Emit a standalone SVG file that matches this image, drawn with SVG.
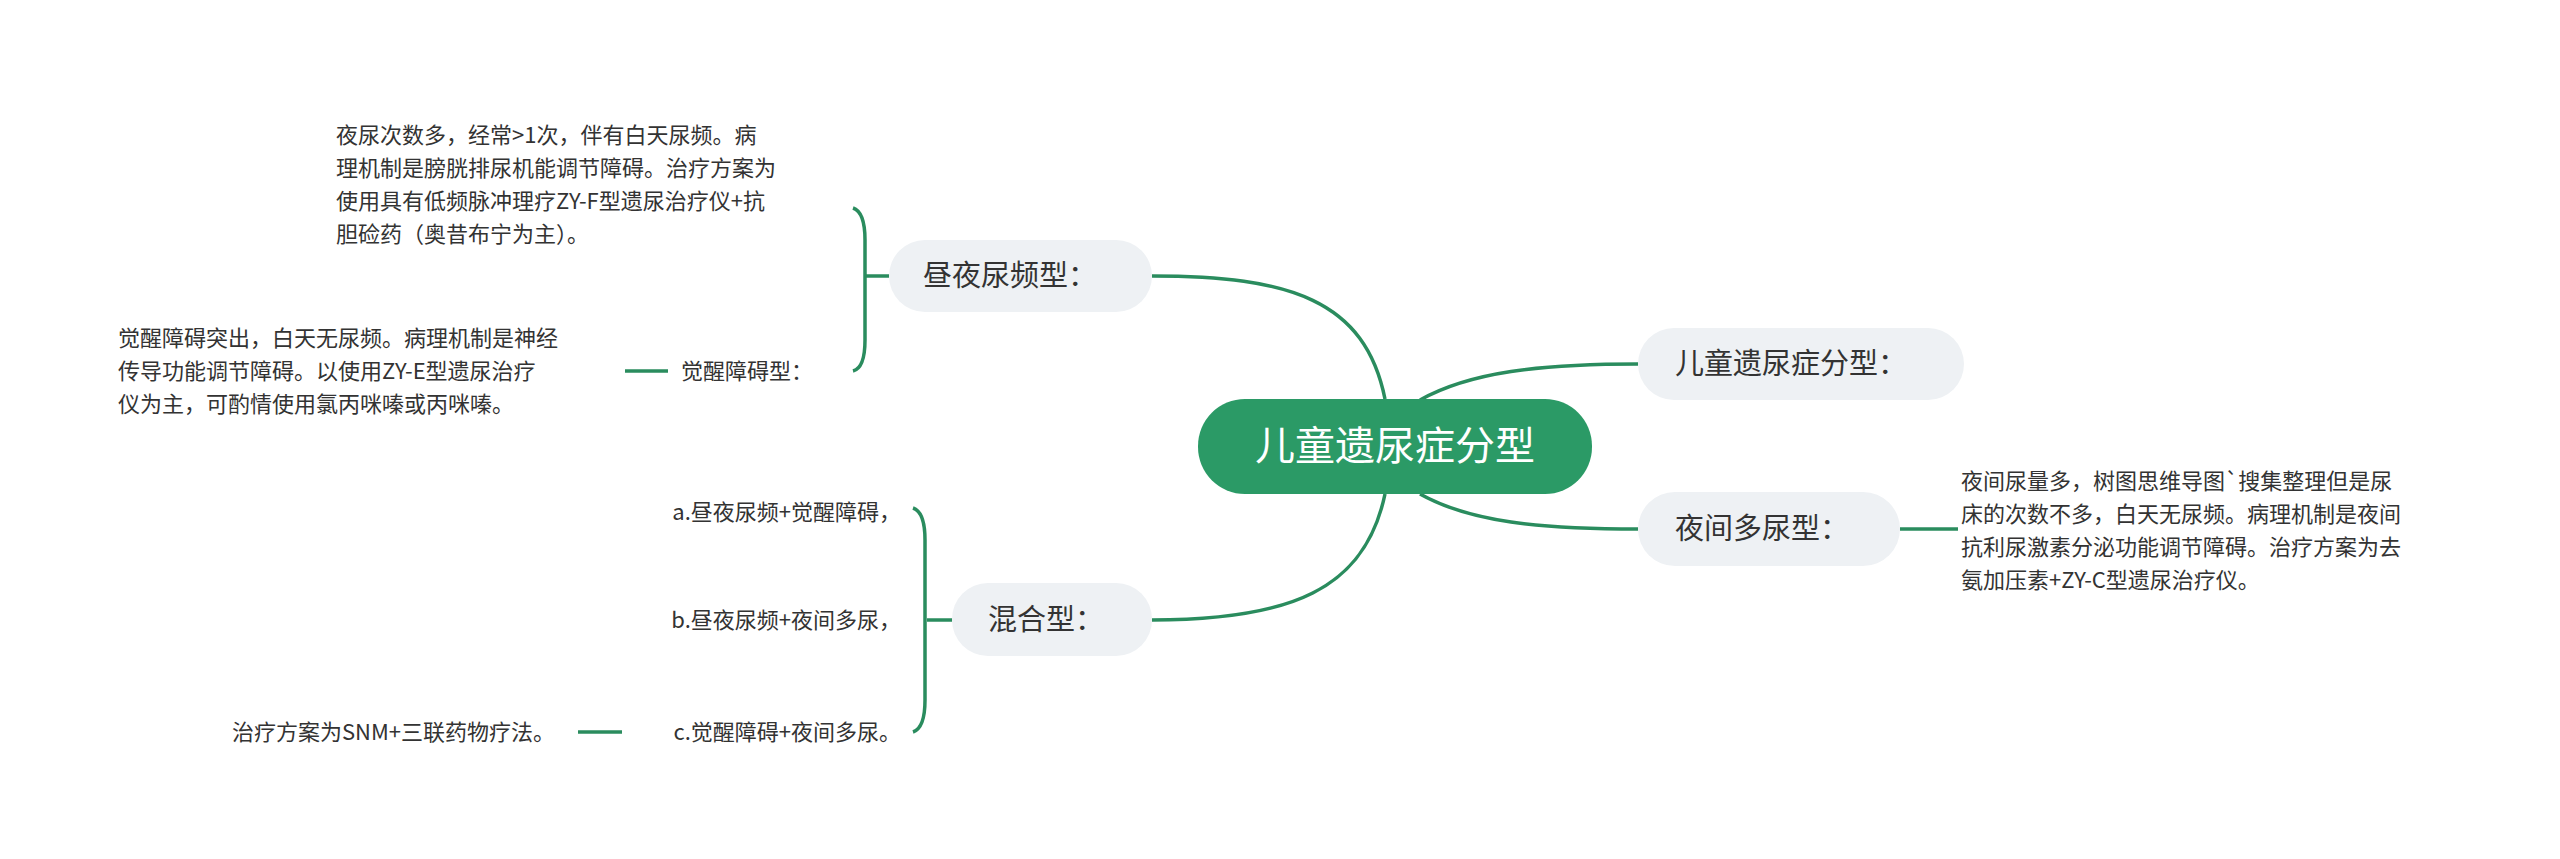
<svg xmlns="http://www.w3.org/2000/svg" width="2560" height="859" viewBox="0 0 2560 859">
<style>
.c{fill:none;stroke:#2a8c5e;stroke-width:3.5}
.n{fill:#eef1f4}
text{font-family:"Noto Sans CJK SC","Noto Sans",sans-serif;fill:#333}
.t1{font-size:29px}
.t2{font-size:22px}
</style>
<rect width="2560" height="859" fill="#fff"/>
<g id="connectors">
<path class="c" d="M1385,399 C1365,300 1290,276 1152,276"/>
<path class="c" d="M1385,494 C1365,590 1290,620 1152,620"/>
<path class="c" d="M1420,400 C1470,372 1540,364 1638,364"/>
<path class="c" d="M1420,494 C1470,522 1540,529 1638,529"/>
<path class="c" d="M1900,529 H1958"/>
<path class="c" d="M889,276 H865"/>
<path class="c" d="M853,208 Q865,212 865,240 L865,340 Q865,368 853,371"/>
<path class="c" d="M625,371 H668"/>
<path class="c" d="M952,620 H927"/>
<path class="c" d="M913,508 Q925,512 925,540 L925,700 Q925,728 913,732"/>
<path class="c" d="M578,732 H622"/>
</g>
<g id="root">
<rect x="1198" y="399" width="394" height="95" rx="47" fill="#2b9a66"/>
<text x="1395" y="460" font-size="40" text-anchor="middle" style="fill:#fff">儿童遗尿症分型</text>
</g>
<g id="n-type">
<rect class="n" x="1638" y="328" width="326" height="72" rx="36"/>
<text class="t1" x="1675" y="374">儿童遗尿症分型：</text>
</g>
<g id="n-night">
<rect class="n" x="1638" y="492" width="262" height="74" rx="37"/>
<text class="t1" x="1675" y="539">夜间多尿型：</text>
</g>
<g id="n-night-text">
<text class="t2" x="1961" y="489">夜间尿量多，树图思维导图`搜集整理但是尿</text>
<text class="t2" x="1961" y="522">床的次数不多，白天无尿频。病理机制是夜间</text>
<text class="t2" x="1961" y="555">抗利尿激素分泌功能调节障碍。治疗方案为去</text>
<text class="t2" x="1961" y="588">氨加压素+ZY-C型遗尿治疗仪。</text>
</g>
<g id="n-day">
<rect class="n" x="889" y="240" width="263" height="72" rx="36"/>
<text class="t1" x="923" y="286">昼夜尿频型：</text>
</g>
<g id="n-day-text">
<text class="t2" x="336" y="143">夜尿次数多，经常&gt;1次，伴有白天尿频。病</text>
<text class="t2" x="336" y="176">理机制是膀胱排尿机能调节障碍。治疗方案为</text>
<text class="t2" x="336" y="209">使用具有低频脉冲理疗ZY-F型遗尿治疗仪+抗</text>
<text class="t2" x="336" y="242">胆硷药（奥昔布宁为主）。</text>
</g>
<g id="n-wake">
<text class="t2" x="681" y="379">觉醒障碍型：</text>
</g>
<g id="n-wake-text">
<text class="t2" x="118" y="346">觉醒障碍突出，白天无尿频。病理机制是神经</text>
<text class="t2" x="118" y="379">传导功能调节障碍。以使用ZY-E型遗尿治疗</text>
<text class="t2" x="118" y="412">仪为主，可酌情使用氯丙咪嗪或丙咪嗪。</text>
</g>
<g id="n-mix">
<rect class="n" x="952" y="583" width="200" height="73" rx="36"/>
<text class="t1" x="988" y="630">混合型：</text>
</g>
<g id="n-mix-a"><text class="t2" x="901" y="520" text-anchor="end">a.昼夜尿频+觉醒障碍，</text></g>
<g id="n-mix-b"><text class="t2" x="901" y="628" text-anchor="end">b.昼夜尿频+夜间多尿，</text></g>
<g id="n-mix-c"><text class="t2" x="901" y="740" text-anchor="end">c.觉醒障碍+夜间多尿。</text></g>
<g id="n-mix-c-text"><text class="t2" x="555" y="740" text-anchor="end">治疗方案为SNM+三联药物疗法。</text></g>
</svg>
